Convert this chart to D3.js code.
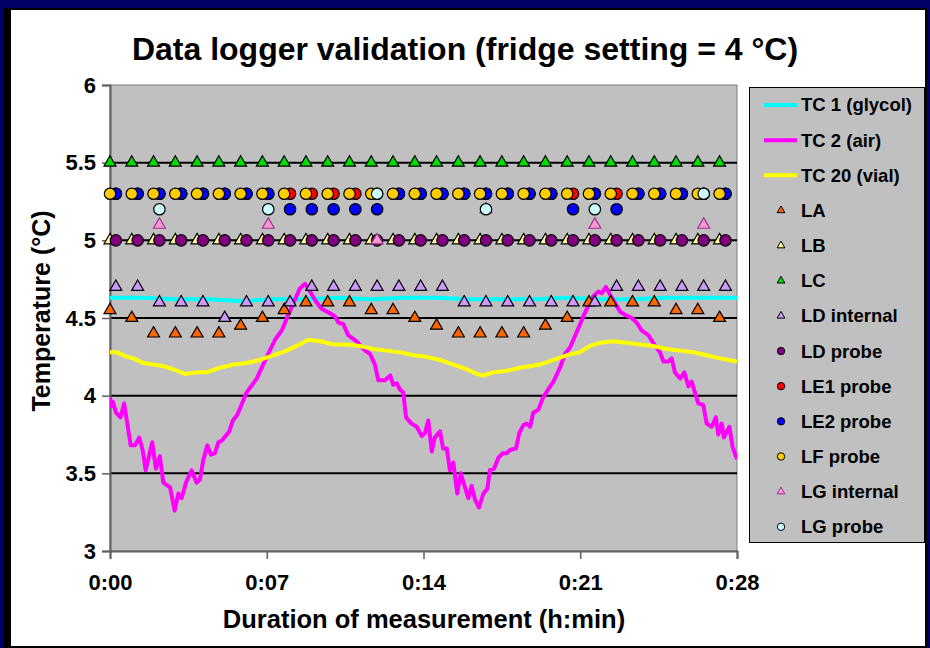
<!DOCTYPE html>
<html>
<head>
<meta charset="utf-8">
<script src="https://cdn.jsdelivr.net/npm/d3@7"></script>
<style>
    body { margin: 0; background: #000066; }
    text { font-family: "Liberation Sans", Arial, sans-serif; font-weight: bold; fill: #000; }
</style>
</head>
<body>
<div id="chart"></div>
<script>
// logger readings, one per minute (lagged loggers start ~16 s later)
const loggerMinutes = [0, 1, 2, 3, 4, 5, 6, 7, 8, 9, 10, 11, 12, 13, 14, 15, 16, 17, 18, 19, 20, 21, 22, 23, 24, 25, 26, 27, 28];
const laggedMinutes = [0.27, 1.27, 2.27, 3.27, 4.27, 5.27, 6.27, 7.27, 8.27, 9.27, 10.27, 11.27, 12.27, 13.27, 14.27, 15.27, 16.27, 17.27, 18.27, 19.27, 20.27, 21.27, 22.27, 23.27, 24.27, 25.27, 26.27, 27.27, 28.27];
const lgMinutes = [2.27, 7.27, 12.27, 17.27, 22.27, 27.27];

const LA = [4.55, 4.5, 4.4, 4.4, 4.4, 4.4, 4.45, 4.5, 4.55, 4.6, 4.6, 4.6, 4.55, 4.55, 4.5, 4.45, 4.4, 4.4, 4.4, 4.4, 4.45, 4.5, 4.6, 4.6, 4.6, 4.6, 4.55, 4.55, 4.5];
const LB = [5, 5, 5, 5, 5, 5, 5, 5, 5, 5, 5, 5, 5, 5, 5, 5, 5, 5, 5, 5, 5, 5, 5, 5, 5, 5, 5, 5, 5];
const LC = [5.5, 5.5, 5.5, 5.5, 5.5, 5.5, 5.5, 5.5, 5.5, 5.5, 5.5, 5.5, 5.5, 5.5, 5.5, 5.5, 5.5, 5.5, 5.5, 5.5, 5.5, 5.5, 5.5, 5.5, 5.5, 5.5, 5.5, 5.5, 5.5];
const LD_internal = [4.7, 4.7, 4.6, 4.6, 4.6, 4.5, 4.6, 4.6, 4.6, 4.7, 4.7, 4.7, 4.7, 4.7, 4.7, 4.7, 4.6, 4.6, 4.6, 4.6, 4.6, 4.6, 4.6, 4.7, 4.7, 4.7, 4.7, 4.7, 4.7];
const LD_probe = [5, 5, 5, 5, 5, 5, 5, 5, 5, 5, 5, 5, 5, 5, 5, 5, 5, 5, 5, 5, 5, 5, 5, 5, 5, 5, 5, 5, 5];
const LE1_probe = [5.3, 5.3, 5.3, 5.3, 5.3, 5.3, 5.3, 5.3, 5.3, 5.3, 5.3, 5.3, 5.3, 5.3, 5.3, 5.3, 5.3, 5.3, 5.3, 5.3, 5.3, 5.3, 5.3, 5.3, 5.3, 5.3, 5.3, 5.3, 5.3];
const LE2_probe = [5.3, 5.3, 5.3, 5.3, 5.3, 5.3, 5.3, 5.3, 5.2, 5.2, 5.2, 5.2, 5.2, 5.3, 5.3, 5.3, 5.3, 5.3, 5.3, 5.3, 5.3, 5.2, 5.3, 5.2, 5.3, 5.3, 5.3, 5.3, 5.3];
const LF_probe = [5.3, 5.3, 5.3, 5.3, 5.3, 5.3, 5.3, 5.3, 5.3, 5.3, 5.3, 5.3, 5.3, 5.3, 5.3, 5.3, 5.3, 5.3, 5.3, 5.3, 5.3, 5.3, 5.3, 5.3, 5.3, 5.3, 5.3, 5.3, 5.3];
const LG_internal = [5.1, 5.1, 5.0, 5.2, 5.1, 5.1];
const LG_probe = [5.2, 5.2, 5.3, 5.2, 5.2, 5.3];

// thermocouples
const tc1Minutes = [0, 1.5, 3, 4.5, 6, 7.5, 9, 10.5, 12, 13.5, 15, 16.5, 18, 19.5, 21, 22.5, 24, 25.5, 27, 28.8];
const tc1Values = [4.63, 4.63, 4.62, 4.62, 4.61, 4.62, 4.62, 4.63, 4.62, 4.63, 4.63, 4.62, 4.62, 4.62, 4.63, 4.62, 4.62, 4.63, 4.63, 4.63];

const tc2Minutes = [0, 0.04, 0.13, 0.28, 0.48, 0.65, 0.95, 1.15, 1.34, 1.5, 1.64, 1.94, 2.11, 2.29, 2.45, 2.76, 2.97, 3.14, 3.29, 3.49,
    3.75, 3.98, 4.13, 4.29, 4.47, 4.64, 4.82, 4.98, 5.13, 5.48, 5.64, 5.82, 5.98, 6.27, 6.74, 7.2, 7.58, 7.89, 8.19, 8.5,
    8.72, 8.96, 9.19, 9.49, 9.72, 10.1, 10.34, 10.49, 10.72, 10.94, 11.33, 11.72, 11.94, 12.17, 12.32, 12.63, 12.87, 13.01, 13.17, 13.32,
    13.47, 13.6, 13.85, 14.09, 14.32, 14.47, 14.62, 14.78, 14.92, 15.16, 15.3, 15.47, 15.61, 15.77, 15.95, 16.11, 16.46, 16.61, 16.77, 16.95,
    17.15, 17.33, 17.45, 17.64, 17.84, 18.04, 18.23, 18.37, 18.65, 18.8, 18.99, 19.14, 19.3, 19.44, 19.68, 19.9, 20.13, 20.37, 20.67, 20.9,
    21.13, 21.44, 21.74, 21.97, 22.2, 22.43, 22.59, 22.78, 22.97, 23.19, 23.43, 23.66, 23.97, 24.19, 24.42, 24.73, 24.95, 25.26, 25.42, 25.64,
    25.8, 25.95, 26.19, 26.38, 26.57, 26.72, 27.02, 27.25, 27.41, 27.64, 27.83, 27.94, 28.1, 28.2, 28.45, 28.6, 28.8];
const tc2Values = [3.99, 3.93, 3.96, 3.89, 3.86, 3.95, 3.68, 3.68, 3.73, 3.65, 3.52, 3.7, 3.53, 3.61, 3.44, 3.41, 3.26, 3.37, 3.34, 3.44,
    3.52, 3.44, 3.46, 3.59, 3.68, 3.62, 3.63, 3.7, 3.71, 3.77, 3.84, 3.87, 3.92, 4.02, 4.11, 4.25, 4.36, 4.42, 4.52, 4.62,
    4.69, 4.72, 4.67, 4.6, 4.56, 4.53, 4.51, 4.47, 4.46, 4.39, 4.35, 4.29, 4.27, 4.2, 4.1, 4.1, 4.13, 4.07, 4.08, 4.04,
    4.02, 3.86, 3.82, 3.8, 3.74, 3.76, 3.84, 3.64, 3.73, 3.77, 3.66, 3.66, 3.52, 3.57, 3.37, 3.5, 3.34, 3.42, 3.33, 3.28,
    3.37, 3.4, 3.52, 3.53, 3.6, 3.63, 3.63, 3.65, 3.66, 3.76, 3.81, 3.82, 3.8, 3.89, 3.91, 3.99, 4.04, 4.09, 4.18, 4.27,
    4.31, 4.41, 4.51, 4.58, 4.64, 4.67, 4.66, 4.7, 4.65, 4.6, 4.54, 4.52, 4.5, 4.47, 4.42, 4.39, 4.34, 4.28, 4.22, 4.22,
    4.24, 4.15, 4.11, 4.15, 4.06, 4.09, 3.95, 3.94, 3.82, 3.8, 3.86, 3.75, 3.82, 3.73, 3.8, 3.67, 3.59];

const tc20Minutes = [0, 0.31, 0.77, 1.07, 1.53, 1.99, 2.45, 2.91, 3.45, 3.98, 4.44, 5.05, 5.67, 6.27, 6.89, 7.5, 8.12, 8.72, 9.11, 9.65,
    10.25, 10.87, 11.48, 12.1, 12.71, 13.32, 13.93, 14.54, 15.16, 15.77, 16.39, 16.85, 17.15, 17.61, 18.23, 18.83, 19.75, 20.37, 20.97, 21.59,
    22.04, 22.51, 23.11, 23.73, 24.34, 24.95, 25.57, 26.18, 26.79, 27.41, 28.02, 28.8];
const tc20Values = [4.28, 4.28, 4.25, 4.24, 4.21, 4.2, 4.19, 4.17, 4.14, 4.15, 4.15, 4.18, 4.2, 4.21, 4.23, 4.26, 4.29, 4.33, 4.36, 4.35,
    4.33, 4.33, 4.32, 4.3, 4.29, 4.28, 4.26, 4.25, 4.23, 4.2, 4.17, 4.14, 4.13, 4.15, 4.16, 4.18, 4.2, 4.23, 4.26, 4.28,
    4.32, 4.34, 4.35, 4.34, 4.33, 4.32, 4.3, 4.29, 4.28, 4.26, 4.24, 4.22];

const yTicks = [3, 3.5, 4, 4.5, 5, 5.5, 6];
const xTicks = [0, 7.2, 14.4, 21.6, 28.8];   // Excel major unit 0.005 d

const lineSeries = [
    {name: "TC 1 (glycol)", minutes: tc1Minutes, values: tc1Values, color: "#00ffff"},
    {name: "TC 2 (air)", minutes: tc2Minutes, values: tc2Values, color: "#ff00ff"},
    {name: "TC 20 (vial)", minutes: tc20Minutes, values: tc20Values, color: "#ffff00"}
];
const markerSeries = [
    {name: "LA", minutes: loggerMinutes, values: LA, shape: "tri", fill: "#ff6600", stroke: "#000"},
    {name: "LB", minutes: loggerMinutes, values: LB, shape: "tri", fill: "#ffff99", stroke: "#000"},
    {name: "LC", minutes: loggerMinutes, values: LC, shape: "tri", fill: "#00dd00", stroke: "#000"},
    {name: "LD internal", minutes: laggedMinutes, values: LD_internal, shape: "tri", fill: "#cc99ff", stroke: "#000"},
    {name: "LD probe", minutes: laggedMinutes, values: LD_probe, shape: "circle", fill: "#800080", stroke: "#000"},
    {name: "LE1 probe", minutes: laggedMinutes, values: LE1_probe, shape: "circle", fill: "#ff0000", stroke: "#000"},
    {name: "LE2 probe", minutes: laggedMinutes, values: LE2_probe, shape: "circle", fill: "#0000ff", stroke: "#000"},
    {name: "LF probe", minutes: loggerMinutes, values: LF_probe, shape: "circle", fill: "#ffcc00", stroke: "#000"},
    {name: "LG internal", minutes: lgMinutes, values: LG_internal, shape: "tri", fill: "#ff99cc", stroke: "#993399"},
    {name: "LG probe", minutes: lgMinutes, values: LG_probe, shape: "circle", fill: "#ccffff", stroke: "#000"}
];

const W = 930, H = 648;
const plot = {left: 110, right: 737, top: 85, bottom: 551};

const svg = d3.select("#chart").append("svg")
    .attr("width", W)
    .attr("height", H);

// frame
svg.append("rect").attr("x", 0).attr("y", 0).attr("width", W).attr("height", H).attr("fill", "#000066");
svg.append("rect").attr("x", 3).attr("y", 8).attr("width", 924).attr("height", 640).attr("fill", "#000");
svg.append("rect").attr("x", 11).attr("y", 10).attr("width", 914).attr("height", 636).attr("fill", "#fff");

const xx = d3.scaleLinear().domain([0, 28.8]).range([plot.left, plot.right]);
const yy = d3.scaleLinear().domain([3, 6]).range([plot.bottom, plot.top]);

svg.append("rect")
    .attr("x", plot.left).attr("y", plot.top)
    .attr("width", plot.right - plot.left).attr("height", plot.bottom - plot.top)
    .attr("fill", "#c0c0c0").attr("stroke", "#808080").attr("stroke-width", 1);

// gridlines
svg.append("g").selectAll("line")
    .data(yTicks.filter(d => d > 3 && d < 6))
    .join("line")
    .attr("x1", plot.left).attr("x2", plot.right)
    .attr("y1", d => yy(d)).attr("y2", d => yy(d))
    .attr("stroke", "#000").attr("stroke-width", 2);

// axes
const yAxis = svg.append("g")
    .attr("transform", `translate(${plot.left},0)`)
    .call(d3.axisLeft(yy).tickValues(yTicks).tickSize(8).tickPadding(6).tickFormat(d3.format("")));
const xAxis = svg.append("g")
    .attr("transform", `translate(0,${plot.bottom})`)
    .call(d3.axisBottom(xx).tickValues(xTicks).tickSize(8).tickPadding(15)
        .tickFormat(d => "0:" + String(Math.floor(d)).padStart(2, "0")));
[yAxis, xAxis].forEach(a => {
    a.select(".domain").attr("stroke", "#606060").attr("stroke-width", 2);
    a.selectAll(".tick line").attr("stroke", "#606060").attr("stroke-width", 1.5);
    a.selectAll(".tick text").style("font-size", "22px").style("font-family", "Liberation Sans, Arial, sans-serif").style("font-weight", "bold").attr("fill", "#000");
});

// lines
svg.append("clipPath").attr("id", "plotclip")
    .append("rect").attr("x", plot.left).attr("y", plot.top)
    .attr("width", plot.right - plot.left).attr("height", plot.bottom - plot.top);

const line = d3.line().x(d => xx(d[0])).y(d => yy(d[1]));
lineSeries.forEach(s => {
    svg.append("path")
        .datum(s.minutes.map((m, i) => [m, s.values[i]]))
        .attr("clip-path", "url(#plotclip)")
        .attr("fill", "none")
        .attr("stroke", s.color)
        .attr("stroke-width", 4)
        .attr("stroke-linejoin", "round")
        .attr("d", line);
});

// markers
const triangle = d3.symbol().type(d3.symbolTriangle);
function drawMarker(g, shape, big) {
    if (shape === "tri") {
        return g.append("path").attr("d", triangle.size(big ? 62 : 26)());
    }
    return g.append("circle").attr("r", big ? 5.7 : 3.7);
}
markerSeries.forEach(s => {
    s.minutes.forEach((m, i) => {
        const g = svg.append("g").attr("transform", `translate(${xx(m)},${yy(s.values[i])})`);
        drawMarker(g, s.shape, true).attr("fill", s.fill).attr("stroke", s.stroke).attr("stroke-width", 1.2);
    });
});

// titles
svg.append("text").attr("x", 465).attr("y", 60).attr("text-anchor", "middle")
    .style("font-size", "32px").text("Data logger validation (fridge setting = 4 °C)");
svg.append("text").attr("x", 424).attr("y", 628).attr("text-anchor", "middle")
    .style("font-size", "25.5px").text("Duration of measurement (h:min)");
svg.append("text").attr("transform", "translate(50,311) rotate(-90)").attr("text-anchor", "middle")
    .style("font-size", "25px").text("Temperature (°C)");

// legend
const legend = svg.append("g");
legend.append("rect").attr("x", 749.5).attr("y", 87.5).attr("width", 175).attr("height", 455)
    .attr("fill", "#c0c0c0").attr("stroke", "#000").attr("stroke-width", 1);
const rowY = i => 105 + i * 35.15;
lineSeries.forEach((s, i) => {
    legend.append("line").attr("x1", 764).attr("x2", 797).attr("y1", rowY(i)).attr("y2", rowY(i))
        .attr("stroke", s.color).attr("stroke-width", 4);
    legend.append("text").attr("x", 801).attr("y", rowY(i)).attr("dy", "0.35em")
        .style("font-size", "18.5px").text(s.name);
});
markerSeries.forEach((s, j) => {
    const i = j + 3;
    const g = legend.append("g").attr("transform", `translate(781,${rowY(i)})`);
    drawMarker(g, s.shape, false).attr("fill", s.fill).attr("stroke", s.stroke).attr("stroke-width", 1);
    legend.append("text").attr("x", 801).attr("y", rowY(i)).attr("dy", "0.35em")
        .style("font-size", "18.5px").text(s.name);
});
</script>
</body>
</html>
